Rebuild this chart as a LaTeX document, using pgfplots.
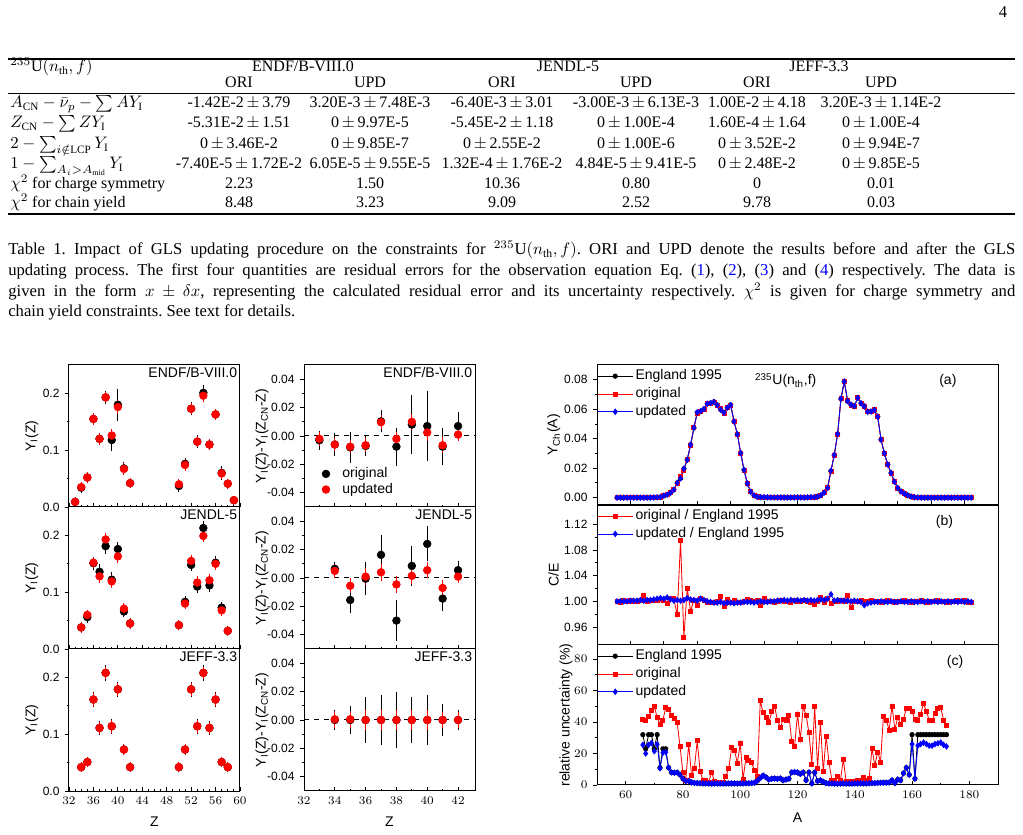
\documentclass[border=0pt]{standalone}
\usepackage{fontspec}
\setmainfont{Liberation Serif}
\setsansfont{Liberation Sans}
\usepackage{pgfplots}
\pgfplotsset{compat=1.18}
\usepackage{pgfplotstable}

% ---------------- charge yields Y_I(Z): original (o) and updated (u) ----------------
\pgfplotstableread{
Z  o      eo     u      eu
33 0.009  0.001  0.009  0.001
34 0.034  0.002  0.035  0.002
35 0.052  0.002  0.052  0.002
36 0.155  0.003  0.155  0.003
37 0.120  0.003  0.120  0.003
38 0.193  0.004  0.193  0.003
39 0.118  0.013  0.126  0.004
40 0.180  0.021  0.176  0.005
41 0.068  0.005  0.067  0.003
42 0.042  0.002  0.042  0.002
50 0.037  0.004  0.040  0.002
51 0.076  0.004  0.074  0.003
52 0.173  0.004  0.173  0.003
53 0.115  0.004  0.115  0.003
54 0.201  0.006  0.196  0.004
55 0.110  0.003  0.110  0.003
56 0.163  0.003  0.163  0.003
57 0.060  0.005  0.059  0.003
58 0.041  0.002  0.041  0.002
59 0.012  0.001  0.012  0.001
}\YIendf
\pgfplotstableread{
Z  o      eo     u      eu
34 0.038  0.002  0.038  0.002
35 0.056  0.003  0.060  0.002
36 0.151  0.004  0.152  0.003
37 0.136  0.006  0.128  0.004
38 0.181  0.006  0.193  0.004
39 0.122  0.006  0.119  0.004
40 0.176  0.005  0.163  0.004
41 0.066  0.003  0.071  0.003
42 0.045  0.002  0.045  0.002
50 0.042  0.002  0.042  0.002
51 0.083  0.003  0.080  0.003
52 0.148  0.004  0.155  0.004
53 0.110  0.005  0.117  0.004
54 0.213  0.006  0.199  0.004
55 0.112  0.005  0.121  0.004
56 0.152  0.004  0.150  0.004
57 0.073  0.003  0.068  0.003
58 0.032  0.002  0.032  0.002
}\YIjendl
\pgfplotstableread{
Z  o      eo     u      eu
34 0.042  0.002  0.042  0.002
35 0.051  0.002  0.051  0.002
36 0.161  0.006  0.161  0.004
37 0.111  0.006  0.111  0.004
38 0.208  0.007  0.208  0.004
39 0.114  0.006  0.114  0.004
40 0.179  0.006  0.179  0.004
41 0.073  0.003  0.073  0.003
42 0.042  0.002  0.042  0.002
50 0.042  0.002  0.042  0.002
51 0.073  0.003  0.073  0.003
52 0.179  0.006  0.179  0.004
53 0.114  0.006  0.114  0.004
54 0.208  0.007  0.208  0.004
55 0.111  0.006  0.111  0.004
56 0.161  0.006  0.161  0.004
57 0.051  0.002  0.051  0.002
58 0.042  0.002  0.042  0.002
}\YIjeff

% ---------------- charge symmetry residuals Y_I(Z)-Y_I(Z_CN-Z) ----------------
\pgfplotstableread{
Z  o       eo      u       eu
33 -0.0030 0.0040 -0.0020 0.0020
34 -0.0060 0.0050 -0.0060 0.0020
35 -0.0080 0.0080 -0.0075 0.0020
36 -0.0070 0.0040 -0.0065 0.0020
37  0.0103 0.0050  0.0097 0.0020
38 -0.0075 0.0105 -0.0020 0.0020
39  0.0080 0.0180  0.0100 0.0030
40  0.0070 0.0220  0.0025 0.0030
41 -0.0075 0.0103 -0.0065 0.0030
42  0.0070 0.0070  0.0010 0.0020
}\RSendf
\pgfplotstableread{
Z  o       eo      u       eu
34  0.0065 0.0020  0.0050 0.0020
35 -0.0155 0.0063 -0.0055 0.0025
36 -0.0005 0.0090  0.0010 0.0030
37  0.0163 0.0110  0.0040 0.0030
38 -0.0300 0.0115 -0.0045 0.0030
39  0.0085 0.0110  0.0015 0.0030
40  0.0240 0.0095  0.0055 0.0030
41 -0.0145 0.0060 -0.0070 0.0030
42  0.0055 0.0040  0.0010 0.0020
}\RSjendl
\pgfplotstableread{
Z  o       eo      u       eu
34  0.0000 0.0040  0.0005 0.0030
35  0.0000 0.0070  0.0005 0.0030
36  0.0000 0.0133  0.0000 0.0040
37  0.0000 0.0148  0.0000 0.0040
38  0.0000 0.0170  0.0000 0.0040
39  0.0000 0.0133  0.0000 0.0040
40  0.0000 0.0147  0.0000 0.0040
41  0.0000 0.0088  0.0000 0.0030
42  0.0000 0.0045  0.0000 0.0030
}\RSjeff

% ---------------- chain yields, C/E ratios and relative uncertainties ----------------
% A, England 1995 (E), original (O), updated (U), O/E (ro), U/E (ru), uncertainties in % (sE sO sU)
\pgfplotstableread{
A   E      O      U      ro    ru    sE   sO   sU
66  0      0      0      1.000 1.000 32   41.9 25.5
67  0      0      0      0.999 1.000 23   40.8 20.0
68  0      0      0      1.001 1.000 32   43.4 25.5
69  0      0      0      1.000 1.000 32   47.6 26.7
70  0      0      0      1.002 1.001 23   50.2 21.5
71  0      0      0      1.000 1.001 32   42.8 25.9
72  0      0      0      1.000 1.001 11   38.7 10.6
73  0      0      0      1.001 1.002 23   41.3 20.5
74  0      0      0      1.009 1.001 23   49.1 20.8
75  0      0      0      1.000 1.002 11   48.0 11.0
76  0      0      0      1.001 1.002 8.0  44.2 8.0
77  0.0001 0.0001 0.0001 1.001 1.003 7.8  42.3 7.8
78  0.0002 0.0002 0.0002 1.002 1.004 7.9  39.6 7.9
79  0.0004 0.0004 0.0004 1.003 1.005 6.5  24.3 6.5
80  0.0013 0.0013 0.0013 1.001 1.004 4.0  7.8  4.0
81  0.0020 0.0020 0.0020 0.997 1.006 2.5  3.2  2.5
82  0.0033 0.0033 0.0033 1.005 1.003 2.6  26.0 2.6
83  0.0054 0.0054 0.0054 1.004 1.001 1.6  6.3  1.6
84  0.0100 0.0098 0.0100 0.979 1.002 1.3  10.6 1.3
85  0.0131 0.0143 0.0131 1.095 1.001 1.2  28.1 1.2
86  0.0196 0.0185 0.0196 0.944 1.002 1.1  8.5  1.1
87  0.0256 0.0261 0.0257 1.020 1.005 1.0  3.2  1.0
88  0.0358 0.0353 0.0359 0.985 1.003 1.0  2.8  1.0
89  0.0473 0.0474 0.0474 1.002 1.002 1.0  1.5  1.0
90  0.0578 0.0574 0.0579 0.993 1.001 0.9  8.3  0.9
91  0.0585 0.0588 0.0587 1.005 1.004 1.0  2.1  1.0
92  0.0600 0.0601 0.0601 1.001 1.002 1.0  1.5  1.0
93  0.0637 0.0636 0.0637 0.999 1.000 0.9  1.9  0.9
94  0.0643 0.0642 0.0642 0.998 0.999 0.9  1.5  0.9
95  0.0650 0.0649 0.0649 0.999 0.998 0.9  5.7  0.9
96  0.0628 0.0628 0.0627 1.000 0.998 1.0  10.6 1.0
97  0.0598 0.0602 0.0597 1.007 0.999 1.0  23.7 1.0
98  0.0578 0.0573 0.0576 0.992 0.997 1.0  22.2 1.0
99  0.0611 0.0613 0.0610 1.003 0.998 0.9  13.8 0.9
100 0.0629 0.0628 0.0628 0.999 0.998 1.0  26.5 1.0
101 0.0518 0.0519 0.0517 1.001 0.997 1.0  3.6  1.0
102 0.0430 0.0430 0.0429 0.999 0.998 1.1  17.4 1.1
103 0.0303 0.0303 0.0302 0.999 0.998 1.1  15.9 1.1
104 0.0188 0.0188 0.0188 1.000 0.999 1.2  14.2 1.2
105 0.0096 0.0096 0.0096 1.003 0.999 1.4  9.1  1.4
106 0.0040 0.0040 0.0040 1.001 0.999 2.8  5.7  2.8
107 0.0015 0.0015 0.0015 1.000 0.998 4.5  53.5 4.5
108 0.0005 0.0005 0.0005 1.002 0.999 6.0  45.9 6.0
109 0.0003 0.0003 0.0003 0.993 1.000 4.9  43.0 4.9
110 0.0003 0.0003 0.0003 1.005 0.999 3.5  39.6 3.5
111 0.0002 0.0002 0.0002 1.000 0.999 4.0  46.6 4.0
112 0.0001 0.0001 0.0001 1.000 1.000 4.1  49.7 4.1
113 0.0001 0.0001 0.0001 0.999 1.000 3.9  41.3 3.9
114 0.0001 0.0001 0.0001 1.000 1.001 4.2  36.6 4.2
115 0.0001 0.0001 0.0001 1.001 1.001 3.0  41.7 3.0
116 0.0001 0.0001 0.0001 1.000 1.002 3.5  40.8 3.5
117 0.0001 0.0001 0.0001 1.000 1.001 4.0  44.4 4.0
118 0.0001 0.0001 0.0001 0.999 1.002 8.0  27.5 8.0
119 0.0001 0.0001 0.0001 1.001 1.001 8.2  24.8 8.2
120 0.0001 0.0001 0.0001 1.000 1.002 8.0  45.1 8.0
121 0.0001 0.0001 0.0001 1.000 1.001 7.0  29.0 7.0
122 0.0001 0.0001 0.0001 1.001 1.002 8.0  49.7 8.0
123 0.0002 0.0002 0.0002 1.000 1.001 3.0  44.4 3.0
124 0.0003 0.0003 0.0003 0.999 1.002 8.0  33.2 8.0
125 0.0003 0.0003 0.0003 0.995 1.001 1.0  13.3 1.0
126 0.0006 0.0006 0.0006 1.000 1.002 8.0  49.7 8.0
127 0.0016 0.0016 0.0016 1.006 1.003 2.5  10.6 2.5
128 0.0035 0.0035 0.0035 0.999 1.002 3.0  39.6 3.0
129 0.0066 0.0066 0.0066 1.004 1.004 2.0  8.5  2.0
130 0.0180 0.0179 0.0182 0.997 1.011 1.2  31.1 1.2
131 0.0289 0.0289 0.0289 1.000 1.001 1.0  14.2 1.0
132 0.0431 0.0431 0.0432 1.000 1.002 1.0  3.2  1.0
133 0.0670 0.0671 0.0671 1.001 1.001 0.9  3.2  0.9
134 0.0787 0.0787 0.0788 1.000 1.001 0.8  5.7  0.8
135 0.0654 0.0660 0.0655 1.009 1.001 0.9  3.2  0.9
136 0.0631 0.0625 0.0631 0.990 1.000 1.0  16.3 1.0
137 0.0619 0.0619 0.0620 1.000 1.001 0.9  2.1  0.9
138 0.0677 0.0677 0.0677 1.000 1.000 0.9  2.1  0.9
139 0.0641 0.0642 0.0640 1.001 0.999 0.9  2.1  0.9
140 0.0622 0.0622 0.0618 1.000 0.994 1.0  2.1  1.0
141 0.0585 0.0585 0.0583 1.000 0.997 1.0  3.2  1.0
142 0.0585 0.0586 0.0584 1.001 0.998 1.0  3.2  1.0
143 0.0596 0.0596 0.0595 1.000 0.999 1.0  4.9  1.0
144 0.0550 0.0550 0.0549 1.000 0.999 1.0  3.2  1.0
145 0.0393 0.0393 0.0393 0.999 1.000 1.1  4.2  1.1
146 0.0300 0.0300 0.0300 1.000 0.999 1.2  23.1 1.2
147 0.0225 0.0225 0.0225 1.001 0.999 1.2  12.3 1.2
148 0.0167 0.0167 0.0167 1.000 1.000 1.3  21.0 1.3
149 0.0108 0.0108 0.0108 0.999 0.999 1.4  14.6 1.4
150 0.0065 0.0065 0.0065 1.000 0.999 1.5  43.8 1.5
151 0.0042 0.0042 0.0042 1.000 1.000 1.5  41.3 1.5
152 0.0027 0.0027 0.0027 1.001 0.999 1.6  34.9 1.6
153 0.0016 0.0016 0.0016 1.000 0.999 3.0  50.2 3.0
154 0.0007 0.0007 0.0007 0.999 1.000 1.2  35.3 1.2
155 0.0003 0.0003 0.0003 1.000 0.999 3.5  43.0 3.5
156 0.0001 0.0001 0.0001 1.000 0.999 3.0  38.7 3.0
157 0      0      0      1.001 1.000 7.5  41.7 7.5
158 0      0      0      1.000 0.999 11.0 48.7 11.0
159 0      0      0      0.999 1.000 6.5  48.7 6.5
160 0      0      0      1.000 0.999 32   46.6 26.0
161 0      0      0      1.000 1.000 4.0  41.7 4.0
162 0      0      0      1.001 0.999 32   40.8 25.0
163 0      0      0      1.000 1.000 32   45.1 26.0
164 0      0      0      1.000 0.999 32   51.9 27.0
165 0      0      0      0.999 1.000 32   46.6 26.0
166 0      0      0      1.000 0.999 32   41.3 25.0
167 0      0      0      1.000 1.000 32   40.8 25.0
168 0      0      0      1.002 0.999 32   45.5 26.0
169 0      0      0      1.000 1.000 32   48.7 26.5
170 0      0      0      1.001 0.999 32   49.1 27.0
171 0      0      0      0.999 1.000 32   41.3 25.5
172 0      0      0      0.998 0.999 32   38.1 24.5
}\chain

\newcommand\tickfont{\sffamily\fontsize{7.2}{8}\selectfont}
\newcommand\labfont{\sffamily\fontsize{8.4}{9.5}\selectfont}
\newcommand\pmv{\,{\pm}\,}

\pgfplotsset{
  base/.style={
    scale only axis,
    scaled ticks=false,
    axis line style={line width=0.6pt},
    tick style={line width=0.5pt, black},
    tick align=inside,
    major tick length=2.4pt,
    minor tick length=1.4pt,
    xtick pos=left, ytick pos=left,
    every major y tick/.append style={xshift=-2.4pt},
    every minor y tick/.append style={xshift=-1.4pt},
    tick label style={font=\tickfont},
    yticklabel style={xshift=-2.2pt},
    label style={font=\labfont},
  },
  yipanel/.style={base, width=102.6pt, height=85.2pt,
    xmin=32, xmax=60, ymin=0, ymax=0.25,
    xtick={32,36,...,60}, minor x tick num=3,
    ytick={0,0.1,0.2}, yticklabels={0.0,0.1,0.2}, minor ytick={0.05,0.15},
    ylabel={Y\textsubscript{I}(Z)},
    every axis y label/.style={at={(axis description cs:-0.218,0.5)}, rotate=90, anchor=center, font=\labfont},
  },
  rspanel/.style={base, width=102.6pt, height=85.2pt,
    xmin=32, xmax=43.1, ymin=-0.05, ymax=0.05,
    xtick={32,34,...,42}, minor x tick num=1,
    ytick={-0.04,-0.02,0,0.02,0.04}, yticklabels={-0.04,-0.02,0.00,0.02,0.04},
    minor ytick={-0.03,-0.01,0.01,0.03},
    ylabel={Y\textsubscript{I}(Z)-Y\textsubscript{I}(Z\textsubscript{CN}-Z)},
    every axis y label/.style={at={(axis description cs:-0.245,0.5)}, rotate=90, anchor=center, font=\labfont},
  },
  zlabel/.style={xlabel={Z},
    every axis x label/.style={at={(axis description cs:0.5,-0.218)}, anchor=center, font=\labfont}},
  bigpanel/.style={base, width=240.6pt, height=84pt,
    every axis y label/.style={at={(axis description cs:-0.108,0.5)}, rotate=90, anchor=center, font=\labfont},
    legend style={at={(0,1)}, anchor=north west, yshift=-1.3pt, draw=none, fill=none,
      inner sep=0pt, font=\labfont, row sep=0.3pt,
      nodes={inner sep=1.4pt}},
    legend cell align=left,
    legend image code/.code={\draw[mark repeat=2,mark phase=2,##1]
      plot coordinates {(0pt,0pt) (10.5pt,0pt) (21pt,0pt)};},
  },
  origpt/.style={black, only marks, mark=*, mark size=2.3pt,
    error bars/.cd, y dir=both, y explicit,
    error bar style={line width=0.6pt},
    error mark options={line width=0.6pt, mark size=2.4pt}},
  updpt/.style={red, only marks, mark=*, mark size=2.3pt,
    error bars/.cd, y dir=both, y explicit,
    error bar style={line width=0.6pt},
    error mark options={line width=0.6pt, mark size=2.4pt}},
  eng/.style={black, line width=0.5pt, mark=*, mark size=1.3pt},
  ori/.style={red, line width=0.5pt, mark=square*, mark size=1.2pt},
  upd/.style={blue, line width=0.5pt, mark=diamond*, mark size=1.6pt},
}

\begin{document}
\frenchspacing
\begin{tikzpicture}
\path[use as bounding box] (0,0) rectangle (613.8pt,501pt);

% ---------------- page text: number, table and caption ----------------
\begin{scope}[shift={(0pt,501pt)}, x=0.6pt, y=-0.6pt]
  \node[anchor=base, inner sep=0pt] at (1003,18) {4};

  \draw[line width=0.8pt] (8,59) -- (1015,59);
  \draw[line width=0.45pt] (8,93) -- (1015,93);
  \draw[line width=0.8pt] (8,214) -- (1015,214);

  \begin{scope}[every node/.style={inner sep=0pt, font=\fontsize{9.6}{11}\selectfont}]
  \node[anchor=base west] at (10,72) {$^{235}$U$(n_{\mathrm{th}},f)$};
  \node[anchor=base] at (303,72) {ENDF/B-VIII.0};
  \node[anchor=base] at (568,72) {JENDL-5};
  \node[anchor=base] at (819,72) {JEFF-3.3};
  \foreach \x/\t in {239/ORI,370/UPD,502/ORI,636/UPD,757/ORI,881/UPD}
    \node[anchor=base] at (\x,88) {\t};

  \node[anchor=base west] at (10,108) {$A_{\mathrm{CN}}-\bar{\nu}_p-\sum AY_{\mathrm{I}}$};
  \node[anchor=base west] at (10,128) {$Z_{\mathrm{CN}}-\sum ZY_{\mathrm{I}}$};
  \node[anchor=base west] at (10,149) {$2-\sum_{i\notin\mathrm{LCP}}Y_{\mathrm{I}}$};
  \node[anchor=base west] at (10,169) {$1-\sum_{A_i>A_{\mathrm{mid}}}Y_{\mathrm{I}}$};
  \node[anchor=base west] at (10,189) {$\chi^2$ for charge symmetry};
  \node[anchor=base west] at (10,208) {$\chi^2$ for chain yield};

  \foreach \y/\a/\b/\c/\d/\e/\f in {
    108/{-1.42E-2$\pmv$3.79}/{3.20E-3$\pmv$7.48E-3}/{-6.40E-3$\pmv$3.01}/{-3.00E-3$\pmv$6.13E-3}/{1.00E-2$\pmv$4.18}/{3.20E-3$\pmv$1.14E-2},
    128/{-5.31E-2$\pmv$1.51}/{0$\pmv$9.97E-5}/{-5.45E-2$\pmv$1.18}/{0$\pmv$1.00E-4}/{1.60E-4$\pmv$1.64}/{0$\pmv$1.00E-4},
    149/{0$\pmv$3.46E-2}/{0$\pmv$9.85E-7}/{0$\pmv$2.55E-2}/{0$\pmv$1.00E-6}/{0$\pmv$3.52E-2}/{0$\pmv$9.94E-7},
    169/{-7.40E-5$\pmv$1.72E-2}/{6.05E-5$\pmv$9.55E-5}/{1.32E-4$\pmv$1.76E-2}/{4.84E-5$\pmv$9.41E-5}/{0$\pmv$2.48E-2}/{0$\pmv$9.85E-5},
    189/2.23/1.50/10.36/0.80/0/0.01,
    208/8.48/3.23/9.09/2.52/9.78/0.03}{
    \node[anchor=base] at (239,\y) {\a};
    \node[anchor=base] at (370,\y) {\b};
    \node[anchor=base] at (502,\y) {\c};
    \node[anchor=base] at (636,\y) {\d};
    \node[anchor=base] at (757,\y) {\e};
    \node[anchor=base] at (881,\y) {\f};
  }
  \end{scope}

  \node[anchor=north west, inner sep=0pt, text width=604.2pt, align=justify,
        font=\fontsize{10}{12.4}\selectfont] at (8,241) {Table 1. Impact of GLS updating procedure on the constraints for $^{235}$U$(n_{\mathrm{th}},f)$. ORI and UPD denote the results before and after the GLS\linebreak
  updating process. The first four quantities are residual errors for the observation equation Eq.~(\textcolor{blue}{1}), (\textcolor{blue}{2}), (\textcolor{blue}{3}) and (\textcolor{blue}{4}) respectively. The data is\linebreak
  given in the form $x\pm\delta x$, representing the calculated residual error and its uncertainty respectively. $\chi^2$ is given for charge symmetry and\linebreak
  chain yield constraints. See text for details.};
\end{scope}

% ---------------- charge yields ----------------
\begin{axis}[yipanel, at={(41.4pt,282pt)}, anchor=north west, xticklabels={}]
  \addplot[origpt] table[x=Z, y=o, y error=eo] {\YIendf};
  \addplot[updpt] table[x=Z, y=u, y error=eu] {\YIendf};
  \node[anchor=north east, inner sep=1.5pt, font=\labfont] at (rel axis cs:1,1) {ENDF/B-VIII.0};
\end{axis}
\begin{axis}[yipanel, at={(41.4pt,196.8pt)}, anchor=north west, xticklabels={}]
  \addplot[origpt] table[x=Z, y=o, y error=eo] {\YIjendl};
  \addplot[updpt] table[x=Z, y=u, y error=eu] {\YIjendl};
  \node[anchor=north east, inner sep=1.5pt, font=\labfont] at (rel axis cs:1,1) {JENDL-5};
\end{axis}
\begin{axis}[yipanel, zlabel, at={(41.4pt,111.6pt)}, anchor=north west]
  \addplot[origpt] table[x=Z, y=o, y error=eo] {\YIjeff};
  \addplot[updpt] table[x=Z, y=u, y error=eu] {\YIjeff};
  \node[anchor=north east, inner sep=1.5pt, font=\labfont] at (rel axis cs:1,1) {JEFF-3.3};
\end{axis}

% ---------------- charge symmetry residuals ----------------
\begin{axis}[rspanel, at={(182.4pt,282pt)}, anchor=north west, xticklabels={},
    legend style={at={(axis description cs:0.075,0.035)}, anchor=south west, draw=none, fill=none,
      font=\labfont, row sep=-1.2pt, nodes={inner sep=1.5pt},
      /tikz/every odd column/.append style={column sep=6pt}},
    legend cell align=left]
  \addplot[black, dashed, line width=0.6pt, forget plot] coordinates {(32,0) (43.1,0)};
  \addplot[origpt] table[x=Z, y=o, y error=eo] {\RSendf};
  \addlegendentry{original}
  \addplot[updpt] table[x=Z, y=u, y error=eu] {\RSendf};
  \addlegendentry{updated}
  \node[anchor=north east, inner sep=1.5pt, font=\labfont] at (rel axis cs:1,1) {ENDF/B-VIII.0};
\end{axis}
\begin{axis}[rspanel, at={(182.4pt,196.8pt)}, anchor=north west, xticklabels={}]
  \addplot[black, dashed, line width=0.6pt] coordinates {(32,0) (43.1,0)};
  \addplot[origpt] table[x=Z, y=o, y error=eo] {\RSjendl};
  \addplot[updpt] table[x=Z, y=u, y error=eu] {\RSjendl};
  \node[anchor=north east, inner sep=1.5pt, font=\labfont] at (rel axis cs:1,1) {JENDL-5};
\end{axis}
\begin{axis}[rspanel, zlabel, at={(182.4pt,111.6pt)}, anchor=north west]
  \addplot[black, dashed, line width=0.6pt] coordinates {(32,0) (43.1,0)};
  \addplot[origpt] table[x=Z, y=o, y error=eo] {\RSjeff};
  \addplot[updpt] table[x=Z, y=u, y error=eu] {\RSjeff};
  \node[anchor=north east, inner sep=1.5pt, font=\labfont] at (rel axis cs:1,1) {JEFF-3.3};
\end{axis}

% ---------------- (a) chain yields ----------------
\begin{axis}[bigpanel, at={(358.2pt,282pt)}, anchor=north west,
    xmin=60, xmax=180, xtick={60,70,...,180}, xticklabels={},
    ymin=-0.005, ymax=0.09, ytick={0,0.02,0.04,0.06,0.08},
    yticklabels={0.00,0.02,0.04,0.06,0.08}, minor y tick num=1,
    ylabel={Y\textsubscript{Ch}(A)}]
  \addplot[eng] table[x=A, y=E] {\chain};
  \addlegendentry{England 1995}
  \addplot[ori] table[x=A, y=O] {\chain};
  \addlegendentry{original}
  \addplot[upd] table[x=A, y=U] {\chain};
  \addlegendentry{updated}
  \node[font=\labfont] at (axis cs:116.5,0.0795) {\textsuperscript{235}U(n\textsubscript{th},f)};
  \node[font=\labfont] at (axis cs:165,0.0795) {(a)};
\end{axis}

% ---------------- (b) C/E ----------------
\begin{axis}[bigpanel, at={(358.2pt,198pt)}, anchor=north west,
    xmin=60, xmax=180, xtick={60,70,...,180}, xticklabels={},
    ymin=0.932, ymax=1.15, ytick={0.96,1.00,1.04,1.08,1.12},
    yticklabels={0.96,1.00,1.04,1.08,1.12}, minor y tick num=1,
    ylabel={C/E}]
  \addplot[ori] table[x=A, y=ro] {\chain};
  \addlegendentry{original / England 1995}
  \addplot[upd] table[x=A, y=ru] {\chain};
  \addlegendentry{updated / England 1995}
  \node[font=\labfont] at (axis cs:164,1.123) {(b)};
\end{axis}

% ---------------- (c) relative uncertainties ----------------
\begin{axis}[bigpanel, at={(358.2pt,114pt)}, anchor=north west,
    xmin=50, xmax=190, xtick={60,80,...,180}, minor x tick num=1,
    ymin=0, ymax=89, ytick={0,20,40,60,80}, minor y tick num=1,
    ylabel={relative uncertainty (\%)},
    every axis y label/.style={at={(axis description cs:-0.077,0.5)}, rotate=90, anchor=center, font=\labfont},
    xlabel={A}, every axis x label/.style={at={(axis description cs:0.5,-0.236)}, anchor=center, font=\labfont}]
  \addplot[eng] table[x=A, y=sE] {\chain};
  \addlegendentry{England 1995}
  \addplot[ori] table[x=A, y=sO] {\chain};
  \addlegendentry{original}
  \addplot[upd] table[x=A, y=sU] {\chain};
  \addlegendentry{updated}
  \node[font=\labfont] at (axis cs:175,78) {(c)};
\end{axis}
\end{tikzpicture}
\end{document}
